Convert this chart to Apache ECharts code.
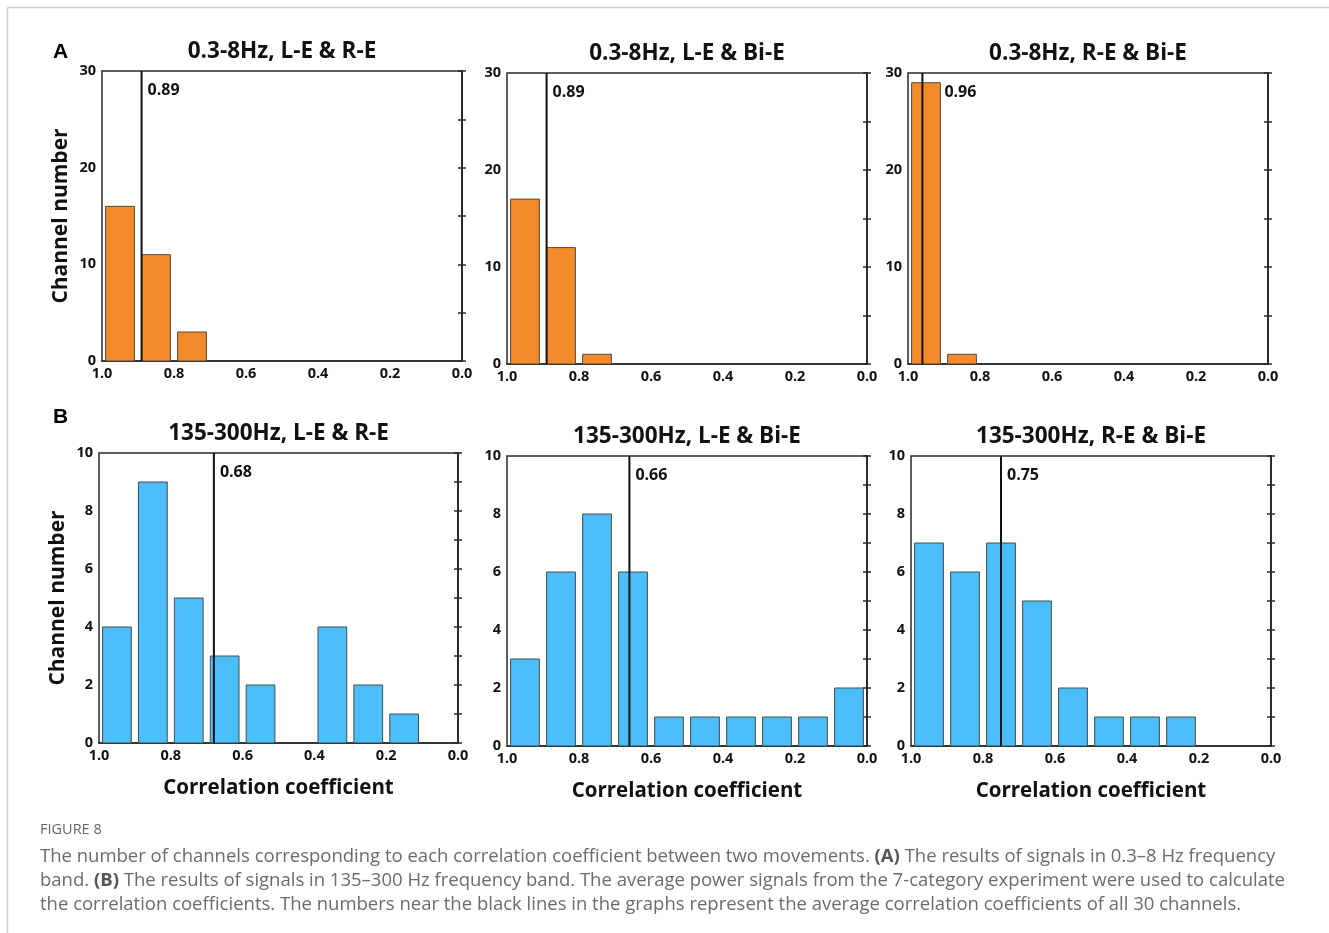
<!DOCTYPE html>
<html>
<head>
<meta charset="utf-8">
<script src="https://cdn.jsdelivr.net/npm/echarts@6/dist/echarts.min.js"></script>
<style>
  html, body { margin: 0; padding: 0; background: #fff; }
  #chart { width: 1329px; height: 933px; }
</style>
</head>
<body>
<div id="chart"></div>
<script>
// Histogram bins of the correlation coefficient (lower edge of each 0.1-wide bin)
const binLower = [0.9, 0.8, 0.7, 0.6, 0.5, 0.4, 0.3, 0.2, 0.1, 0.0];

// Channel counts per bin, 0.3-8 Hz band
const lowLR  = [16, 11, 3, 0, 0, 0, 0, 0, 0, 0];
const lowLBi = [17, 12, 1, 0, 0, 0, 0, 0, 0, 0];
const lowRBi = [29, 1, 0, 0, 0, 0, 0, 0, 0, 0];

// Channel counts per bin, 135-300 Hz band
const highLR  = [4, 9, 5, 3, 2, 0, 4, 2, 1, 0];
const highLBi = [3, 6, 8, 6, 1, 1, 1, 1, 1, 2];
const highRBi = [7, 6, 7, 5, 2, 1, 1, 1, 0, 0];

// Average correlation coefficient of all 30 channels
const lowMeans  = [0.89, 0.89, 0.96];
const highMeans = [0.68, 0.66, 0.75];

// Panel titles and axis ticks
const lowTitles  = ['0.3-8Hz, L-E & R-E', '0.3-8Hz, L-E & Bi-E', '0.3-8Hz, R-E & Bi-E'];
const highTitles = ['135-300Hz, L-E & R-E', '135-300Hz, L-E & Bi-E', '135-300Hz, R-E & Bi-E'];
const xTicks = [0.0, 0.2, 0.4, 0.6, 0.8, 1.0];
const lowYMax = 30, lowYStep = 10;
const highYMax = 10, highYStep = 2;

const captionHead = 'FIGURE 8';
const captionLines = [
  'The number of channels corresponding to each correlation coefficient between two movements. {b|(A)} The results of signals in 0.3–8 Hz frequency',
  'band. {b|(B)} The results of signals in 135–300 Hz frequency band. The average power signals from the 7-category experiment were used to calculate',
  'the correlation coefficients. The numbers near the black lines in the graphs represent the average correlation coefficients of all 30 channels.'
];

// ---- layout & style ----
const ORANGE = '#F58A2B';
const BLUE = '#4BBEFC';
const FONT = '"Open Sans", "Noto Sans", sans-serif';
const AXIS = '#2a2a2a';

const panels = [
  { counts: lowLR,  mean: lowMeans[0], title: lowTitles[0], ymax: lowYMax, ystep: lowYStep, color: ORANGE, box: [102, 71, 360, 290], yName: true,  xName: false, labelDx: 6 },
  { counts: lowLBi, mean: lowMeans[1], title: lowTitles[1], ymax: lowYMax, ystep: lowYStep, color: ORANGE, box: [507, 73, 360, 291], yName: false, xName: false, labelDx: 6 },
  { counts: lowRBi, mean: lowMeans[2], title: lowTitles[2], ymax: lowYMax, ystep: lowYStep, color: ORANGE, box: [908, 73, 360, 291], yName: false, xName: false, labelDx: 22 },
  { counts: highLR,  mean: highMeans[0], title: highTitles[0], ymax: highYMax, ystep: highYStep, color: BLUE, box: [99, 453, 359, 290],  yName: true,  xName: true, labelDx: 6 },
  { counts: highLBi, mean: highMeans[1], title: highTitles[1], ymax: highYMax, ystep: highYStep, color: BLUE, box: [507, 456, 360, 290], yName: false, xName: true, labelDx: 6 },
  { counts: highRBi, mean: highMeans[2], title: highTitles[2], ymax: highYMax, ystep: highYStep, color: BLUE, box: [911, 456, 360, 290], yName: false, xName: true, labelDx: 6 }
];

const grid = [], xAxis = [], yAxis = [], series = [];
const graphic = [];

panels.forEach((p, i) => {
  const [left, top, width, height] = p.box;
  grid.push({
    left, top, width, height,
    show: true, borderColor: AXIS, borderWidth: 1.5, backgroundColor: 'transparent'
  });
  graphic.push({
    type: 'text', x: left + width / 2, y: top - 19,
    style: { text: p.title, fontFamily: FONT, fontWeight: 'bold', fontSize: 22.5, fill: '#111',
             align: 'center', verticalAlign: 'middle' }
  });
  xAxis.push({
    gridIndex: i, type: 'value', min: 0, max: 1, interval: 0.2, inverse: true,
    name: p.xName ? 'Correlation coefficient' : '',
    nameLocation: 'middle', nameGap: 35,
    nameTextStyle: { fontFamily: FONT, fontWeight: 'bold', fontSize: 20.5, color: '#111' },
    axisLine: { show: true, lineStyle: { color: AXIS, width: 1.5 } },
    axisTick: { show: false },
    splitLine: { show: false },
    axisLabel: {
      margin: 5, fontFamily: FONT, fontWeight: 'bold', fontSize: 14.5, color: '#111',
      formatter: v => xTicks.some(t => Math.abs(t - v) < 1e-9) ? v.toFixed(1) : ''
    }
  });
  const yCommon = {
    gridIndex: i, type: 'value', min: 0, max: p.ymax, interval: p.ystep,
    axisLine: { show: true, lineStyle: { color: AXIS, width: 1.5 } },
    axisTick: { show: true, inside: true, length: 4, lineStyle: { color: AXIS, width: 1.5 } },
    minorTick: { show: true, splitNumber: 2, length: 4, lineStyle: { color: AXIS, width: 1.5 } },
    splitLine: { show: false },
    minorSplitLine: { show: false }
  };
  // left axis with labels, ticks pointing into the plot
  yAxis.push(Object.assign({}, yCommon, {
    position: 'left',
    name: p.yName ? 'Channel number' : '',
    nameLocation: 'middle', nameGap: 30, nameRotate: 90,
    nameTextStyle: { fontFamily: FONT, fontWeight: 'bold', fontSize: 21, color: '#111' },
    axisLabel: { margin: 6, fontFamily: FONT, fontWeight: 'bold', fontSize: 14.5, color: '#111' }
  }));
  // mirrored axis on the right edge, ticks only
  yAxis.push(Object.assign({}, yCommon, {
    position: 'right',
    axisLabel: { show: false }
  }));

  // histogram bars
  series.push({
    type: 'custom',
    xAxisIndex: i, yAxisIndex: 2 * i,
    data: binLower.map((lo, k) => [lo, lo + 0.1, p.counts[k]]),
    encode: { x: [0, 1], y: 2 },
    clip: true,
    renderItem: (params, api) => {
      const lo = api.value(0), hi = api.value(1), c = api.value(2);
      if (!c) return null;
      const pad = (hi - lo) * 0.1;
      const a = api.coord([hi - pad, c]);
      const b = api.coord([lo + pad, 0]);
      return {
        type: 'rect',
        shape: { x: Math.min(a[0], b[0]), y: a[1], width: Math.abs(b[0] - a[0]), height: b[1] - a[1] },
        style: { fill: p.color, stroke: '#4a4a4a', lineWidth: 1 }
      };
    },
    z: 2
  });

  // mean line with its value label
  series.push({
    type: 'custom',
    xAxisIndex: i, yAxisIndex: 2 * i,
    data: [[p.mean, p.ymax]],
    encode: { x: 0, y: 1 },
    renderItem: (params, api) => {
      const m = api.value(0), top = api.value(1);
      const t = api.coord([m, top]);
      const b = api.coord([m, 0]);
      return {
        type: 'group',
        children: [
          { type: 'line', shape: { x1: t[0], y1: t[1], x2: b[0], y2: b[1] },
            style: { stroke: '#111', lineWidth: 2 } },
          { type: 'text', x: t[0] + p.labelDx, y: t[1] + 19,
            style: { text: m.toFixed(2), fontFamily: FONT, fontWeight: 'bold', fontSize: 16,
                     fill: '#111', align: 'left', verticalAlign: 'middle' } }
        ]
      };
    },
    z: 5
  });
});

// figure frame
graphic.push(
  { type: 'line', shape: { x1: 7.5, y1: 7.5, x2: 1329, y2: 7.5 }, style: { stroke: '#cfcfcf', lineWidth: 1.5 } },
  { type: 'line', shape: { x1: 7.5, y1: 7.5, x2: 7.5, y2: 933 }, style: { stroke: '#cfcfcf', lineWidth: 1.5 } }
);
// panel letters
graphic.push(
  { type: 'text', left: 53, top: 42, style: { text: 'A', fontFamily: '"Liberation Sans", Arial, sans-serif', fontWeight: 'bold', fontSize: 21, fill: '#000' } },
  { type: 'text', left: 53, top: 407, style: { text: 'B', fontFamily: '"Liberation Sans", Arial, sans-serif', fontWeight: 'bold', fontSize: 21, fill: '#000' } }
);
// caption
graphic.push({ type: 'text', left: 40, top: 822, style: { text: captionHead, fontFamily: FONT, fontSize: 14.5, fill: '#666' } });
captionLines.forEach((line, k) => {
  graphic.push({
    type: 'text', left: 40, top: 847 + 24 * k,
    style: {
      text: line, fontFamily: FONT, fontSize: 18.5, fill: '#6b6b6b',
      rich: { b: { fontFamily: FONT, fontSize: 18.5, fontWeight: 'bold', fill: '#555' } }
    }
  });
});

const chart = echarts.init(document.getElementById('chart'), null, { renderer: 'canvas' });
chart.setOption({
  backgroundColor: '#fff',
  animation: false,
  grid, xAxis, yAxis, series, graphic
});
</script>
</body>
</html>
